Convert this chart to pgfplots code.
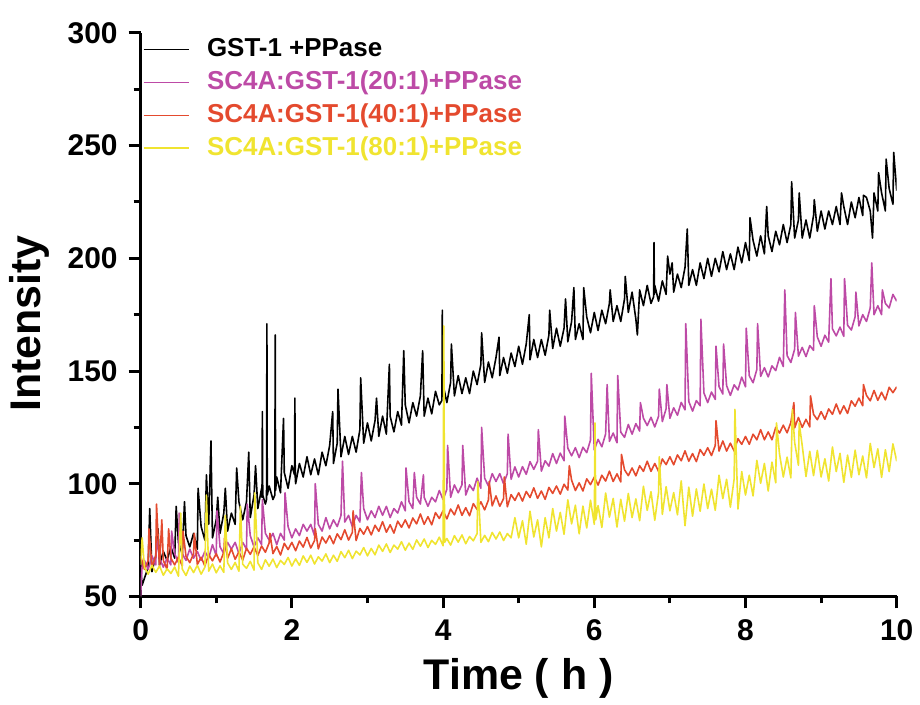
\documentclass[border=0pt]{standalone}
\usepackage{fontspec}
\setmainfont{Liberation Sans}
\usepackage{pgfplots}
\pgfplotsset{compat=1.18}
\definecolor{cmag}{HTML}{BD4AA6}
\definecolor{cred}{HTML}{E44A2E}
\definecolor{cyel}{HTML}{F0E430}

\begin{document}
\begin{tikzpicture}[font=\bfseries]
  % page frame, same proportions as the original figure
  \path (-70.5pt,-49pt) rectangle (389.5pt,299pt);
  \begin{axis}[
    at={(0,0)}, anchor=south west,
    scale only axis, width=379pt, height=282.5pt,
    xmin=0, xmax=10, ymin=50, ymax=300,
    xtick={0,2,...,10}, ytick={50,100,...,300},
    minor x tick num=1, minor y tick num=1,
    axis x line*=bottom, axis y line*=left,
    axis line style={line width=1.6pt,-},
    tick align=outside, major tick length=6pt, minor tick length=3.5pt,
    tick style={line width=1.5pt,black},
    /pgf/number format/assume math mode=true,
    tick label style={font=\fontsize{15}{15}\selectfont\bfseries},
    xticklabel style={yshift=-2pt},
    yticklabel style={xshift=-2pt},
    xlabel={Time ( h )}, ylabel={Intensity},
    label style={font=\fontsize{21.5}{22}\selectfont\bfseries},
    xlabel style={yshift=-2pt},
    ylabel style={yshift=2.5pt,xshift=-4.5pt},
    no markers,
    every axis plot/.append style={line width=0.8pt,line join=round},
    legend style={draw=none,fill=none,at={(0,1)},anchor=north west,
      xshift=1pt,yshift=-2pt,inner sep=0pt,row sep=4.5pt,column sep=9pt,
      font=\fontsize{13}{14}\selectfont\bfseries,
      nodes={inner sep=0pt,text height=9.5pt,text depth=2.5pt}},
    legend cell align=left,
    legend image code/.code={\draw[#1,line width=0.6pt] (0pt,0pt) -- (22.5pt,0pt);},
  ]
    % GST-1 + PPase
    \addplot[black] coordinates {
      (0,62) (0.02,55) (0.05,58) (0.1,63) (0.12,89) (0.15,61) (0.2,68) (0.23,80) (0.25,64) (0.3,70) (0.35,66) (0.4,72) (0.45,67) (0.47,90)
      (0.5,74) (0.55,69) (0.58,92) (0.6,77) (0.65,72) (0.7,78) (0.75,71) (0.76,98) (0.8,81) (0.85,75) (0.87,104) (0.9,82) (0.93,119) (0.95,76)
      (1,84) (1.02,94) (1.05,78) (1.1,87) (1.12,98) (1.15,79) (1.2,87) (1.25,82) (1.27,107) (1.3,92) (1.35,84) (1.4,92) (1.43,114) (1.45,85)
      (1.5,95) (1.52,108) (1.55,89) (1.6,98) (1.605,94) (1.61,132) (1.615,95) (1.65,91) (1.665,93) (1.67,171) (1.675,95) (1.7,99) (1.75,93)
      (1.775,95) (1.78,166) (1.785,97) (1.8,103) (1.85,96) (1.89,129) (1.9,105) (1.95,98)
      (2,108) (2.035,104) (2.04,138) (2.045,103) (2.05,100) (2.1,109) (2.15,103) (2.2,112) (2.25,104) (2.3,111) (2.35,104) (2.4,114) (2.45,108)
      (2.5,117) (2.54,132) (2.55,109) (2.6,118) (2.61,142) (2.65,112) (2.7,121) (2.75,113) (2.8,121) (2.85,114) (2.9,124) (2.91,147) (2.95,118)
      (3,127) (3.05,119) (3.1,128) (3.12,138) (3.15,121) (3.2,130) (3.25,122) (3.29,153) (3.3,130) (3.35,123) (3.4,132) (3.45,126) (3.48,159)
      (3.5,135) (3.55,127) (3.6,136) (3.65,130) (3.7,139) (3.73,159) (3.75,130) (3.8,138) (3.85,131) (3.9,141) (3.95,135)
      (3.985,137) (3.99,177) (3.995,139)
      (4,144) (4.05,136) (4.1,145) (4.11,162) (4.15,139) (4.2,148) (4.25,140) (4.3,147) (4.35,140) (4.4,150) (4.45,144)
      (4.5,153) (4.51,167) (4.55,145) (4.6,154) (4.65,147) (4.7,156) (4.74,165) (4.75,148) (4.8,156) (4.85,149) (4.9,158) (4.95,152)
      (5,161) (5.05,153) (5.1,162) (5.14,175) (5.15,155) (5.2,164) (5.25,156) (5.3,164) (5.35,157) (5.4,166) (5.41,177) (5.45,160)
      (5.5,169) (5.55,161) (5.6,169) (5.62,182) (5.65,163) (5.7,172) (5.73,187) (5.75,164) (5.8,171) (5.85,164) (5.86,187) (5.9,174) (5.95,167)
      (6,176) (6.05,168) (6.1,177) (6.15,171) (6.2,180) (6.21,186) (6.25,172) (6.3,179) (6.35,172) (6.4,182) (6.41,192) (6.45,176)
      (6.5,185) (6.55,173) (6.57,166) (6.6,186) (6.65,179) (6.7,188) (6.75,180) (6.785,183) (6.79,207) (6.795,184) (6.8,188) (6.85,181) (6.9,190) (6.95,184) (6.97,201)
      (7,193) (7.03,198) (7.05,185) (7.1,193) (7.15,187) (7.2,196) (7.23,213) (7.25,188) (7.3,195) (7.35,188) (7.4,198) (7.45,191)
      (7.5,200) (7.55,192) (7.6,200) (7.65,194) (7.7,203) (7.75,195) (7.8,202) (7.85,195) (7.9,205) (7.95,198)
      (8,207) (8.05,199) (8.06,218) (8.1,208) (8.15,201) (8.2,210) (8.25,202) (8.28,223) (8.3,210) (8.35,203) (8.4,212) (8.45,206)
      (8.5,215) (8.55,207) (8.6,215) (8.61,234) (8.65,209) (8.7,217) (8.71,229) (8.75,209) (8.8,217) (8.85,209) (8.9,219) (8.91,226) (8.95,212)
      (9,221) (9.05,213) (9.1,221) (9.15,215) (9.2,223) (9.25,215) (9.27,229) (9.3,223) (9.35,215) (9.4,225) (9.45,218)
      (9.5,227) (9.55,219) (9.56,228) (9.6,227) (9.65,221) (9.68,209) (9.7,229) (9.75,221) (9.76,238) (9.8,229) (9.85,221) (9.86,244) (9.9,231) (9.95,224) (9.96,247) (10,230)
    };
    \addlegendentry{GST-1 +PPase}
    % SC4A:GST-1 (20:1) + PPase
    \addplot[cmag] coordinates {
      (0,50) (0.02,64) (0.05,66) (0.1,62) (0.15,68) (0.2,64) (0.21,76) (0.25,67) (0.3,63) (0.35,67) (0.4,64) (0.41,79) (0.45,69)
      (0.5,65) (0.51,87) (0.55,69) (0.6,66) (0.65,71) (0.7,67) (0.75,70) (0.8,66) (0.85,70) (0.9,67) (0.95,73)
      (1,68) (1.01,88) (1.05,72) (1.1,69) (1.15,74) (1.2,71) (1.25,74) (1.3,69) (1.35,74) (1.4,71) (1.41,91) (1.45,77)
      (1.5,72) (1.55,76) (1.6,73) (1.61,93) (1.65,78) (1.7,75) (1.75,78) (1.8,73) (1.85,78) (1.9,75) (1.91,96) (1.95,81)
      (2,76) (2.05,80) (2.1,77) (2.15,82) (2.2,79) (2.25,82) (2.3,77) (2.31,100) (2.35,82) (2.4,79) (2.45,85)
      (2.5,80) (2.55,84) (2.6,81) (2.65,86) (2.67,110) (2.7,83) (2.75,86) (2.8,81) (2.85,86) (2.9,83) (2.92,105) (2.95,89)
      (3,84) (3.05,88) (3.1,85) (3.15,90) (3.2,86) (3.25,90) (3.3,85) (3.35,89) (3.4,87) (3.45,92)
      (3.5,88) (3.51,107) (3.55,92) (3.6,89) (3.62,105) (3.65,94) (3.7,91) (3.74,104) (3.75,94) (3.8,90) (3.85,94) (3.9,92) (3.95,97)
      (4,93) (4.05,97.5) (4.06,117) (4.1,94) (4.15,99.5) (4.2,96) (4.25,99.5) (4.26,117) (4.3,95) (4.35,99.5) (4.4,97) (4.45,102.5)
      (4.5,98) (4.51,125) (4.55,102.5) (4.6,99) (4.65,104.5) (4.7,101) (4.75,104.5) (4.8,100) (4.85,104.5) (4.86,122) (4.9,102) (4.95,107.5)
      (5,103) (5.05,107.6) (5.1,104.2) (5.15,109.8) (5.2,106.4) (5.25,110) (5.26,124) (5.3,105.6) (5.35,110.2) (5.4,107.8) (5.45,113.4)
      (5.5,109) (5.55,113.6) (5.6,110.2) (5.61,130) (5.65,115.8) (5.7,112.4) (5.75,116) (5.8,111.6) (5.85,116.2) (5.9,113.8) (5.95,119.4) (5.96,149)
      (6,115) (6.05,119.7) (6.1,116.4) (6.15,122.1) (6.17,144) (6.2,118.8) (6.25,122.5) (6.3,118.2) (6.31,148) (6.35,122.9) (6.4,120.6) (6.45,126.3)
      (6.5,122) (6.55,126.7) (6.6,123.4) (6.61,136) (6.65,129.1) (6.7,125.8) (6.75,129.5) (6.8,125.2) (6.85,129.9) (6.86,142) (6.9,127.6) (6.95,133.3) (6.96,144)
      (7,129) (7.05,133.7) (7.1,130.4) (7.15,136.1) (7.2,132.8) (7.21,171) (7.25,136.5) (7.3,132.2) (7.35,136.9) (7.4,134.6) (7.41,173) (7.45,140.3)
      (7.5,136) (7.55,140.7) (7.6,137.4) (7.61,161) (7.65,143.1) (7.7,139.8) (7.71,162) (7.75,143.5) (7.8,139.2) (7.85,143.9) (7.9,141.6) (7.95,147.3)
      (8,143) (8.01,169) (8.05,147.9) (8.1,144.8) (8.15,150.7) (8.16,171) (8.2,147.6) (8.25,151.5) (8.3,147.4) (8.35,152.3) (8.4,150.2) (8.45,156.1)
      (8.5,152) (8.52,186) (8.55,156.9) (8.6,153.8) (8.65,159.7) (8.66,176) (8.7,156.6) (8.75,160.5) (8.8,156.4) (8.85,161.3) (8.9,159.2) (8.91,179) (8.95,165.1)
      (9,161) (9.05,165.9) (9.1,162.8) (9.13,191) (9.15,168.7) (9.2,165.6) (9.25,169.5) (9.3,165.4) (9.31,191) (9.35,170.3) (9.4,168.2) (9.45,174.1) (9.46,185)
      (9.5,170) (9.55,175) (9.6,172) (9.65,178) (9.67,198) (9.7,175) (9.75,179) (9.8,175) (9.81,186) (9.85,180) (9.9,178) (9.95,184) (10,181)
    };
    \addlegendentry{\textcolor{cmag}{SC4A:GST-1(20:1)+PPase}}
    % SC4A:GST-1 (40:1) + PPase
    \addplot[cred] coordinates {
      (0,68) (0.05,62) (0.1,66) (0.11,80) (0.15,63) (0.2,68) (0.21,91) (0.25,63) (0.28,84) (0.3,66) (0.35,62) (0.37,80) (0.4,67) (0.45,64)
      (0.5,67.5) (0.55,63.6) (0.56,79) (0.6,67.8) (0.65,65) (0.7,69) (0.71,78) (0.75,64.2) (0.8,67.4) (0.85,63.5) (0.9,68.7) (0.95,65.8)
      (1,69) (1.05,65.3) (1.1,69.6) (1.11,76) (1.15,66.9) (1.2,71.2) (1.25,66.5) (1.3,69.8) (1.35,66.1) (1.4,71.4) (1.45,68.7)
      (1.5,72) (1.55,68.2) (1.6,72.4) (1.65,69.6) (1.7,73.8) (1.71,78) (1.75,69) (1.8,72.2) (1.85,68.4) (1.9,73.6) (1.95,70.8)
      (2,74) (2.05,70.3) (2.1,74.6) (2.15,71.9) (2.2,76.2) (2.25,71.5) (2.3,74.8) (2.31,80) (2.35,71.1) (2.4,76.4) (2.45,73.7)
      (2.5,77) (2.55,73.4) (2.6,77.8) (2.65,75.2) (2.7,79.6) (2.75,75) (2.8,78.4) (2.81,88) (2.85,74.8) (2.9,80.2) (2.95,77.6)
      (3,81) (3.05,77.3) (3.1,81.6) (3.15,78.9) (3.2,83.2) (3.25,78.5) (3.3,81.8) (3.35,78.1) (3.4,83.4) (3.45,80.7)
      (3.5,84) (3.55,80.4) (3.6,84.8) (3.65,82.2) (3.7,86.6) (3.75,82) (3.8,85.4) (3.85,81.8) (3.9,87.2) (3.95,84.6)
      (4,88) (4.05,84.4) (4.1,88.8) (4.15,86.2) (4.2,90.6) (4.25,86) (4.3,89.4) (4.35,85.8) (4.4,91.2) (4.45,88.6)
      (4.5,92) (4.55,88.4) (4.6,92.8) (4.61,101) (4.65,90.2) (4.7,94.6) (4.75,90) (4.8,93.4) (4.81,103) (4.85,89.8) (4.9,95.2) (4.95,92.6)
      (5,96) (5.05,92.3) (5.1,96.6) (5.15,93.9) (5.2,98.2) (5.25,93.5) (5.3,96.8) (5.35,93.1) (5.4,98.4) (5.45,95.7)
      (5.5,99) (5.55,95.4) (5.6,99.8) (5.65,97.2) (5.67,108) (5.7,101.6) (5.75,97) (5.8,100.4) (5.85,96.8) (5.9,102.2) (5.95,99.6)
      (6,103) (6.05,99.4) (6.1,103.8) (6.15,101.2) (6.2,105.6) (6.25,101) (6.3,104.4) (6.35,100.8) (6.36,113) (6.4,106.2) (6.45,103.6)
      (6.5,107) (6.55,103.5) (6.6,108) (6.65,105.5) (6.7,110) (6.75,105.5) (6.8,109) (6.85,105.5) (6.9,111) (6.95,108.5)
      (7,112) (7.05,108.4) (7.1,112.8) (7.15,110.2) (7.2,114.6) (7.25,110) (7.3,113.4) (7.35,109.8) (7.4,115.2) (7.45,112.6)
      (7.5,116) (7.55,112.5) (7.6,117) (7.61,128) (7.65,114.5) (7.7,119) (7.75,114.5) (7.8,118) (7.85,114.5) (7.9,120) (7.95,117.5)
      (8,121) (8.05,117.5) (8.1,122) (8.15,119.5) (8.2,124) (8.25,119.5) (8.3,123) (8.35,119.5) (8.4,125) (8.45,122.5)
      (8.5,126) (8.55,122.6) (8.6,127.2) (8.64,136) (8.65,124.8) (8.7,129.4) (8.75,125) (8.8,128.6) (8.85,125.2) (8.86,139) (8.9,130.8) (8.95,128.4)
      (9,132) (9.05,128.6) (9.1,133.2) (9.15,130.8) (9.2,135.4) (9.25,131) (9.3,134.6) (9.35,131.2) (9.4,136.8) (9.45,134.4)
      (9.5,138) (9.55,134.6) (9.56,144) (9.6,139.2) (9.65,136.8) (9.7,141.4) (9.75,137) (9.8,140.6) (9.85,137.2) (9.9,142.8) (9.95,140.4) (10,143)
    };
    \addlegendentry{\textcolor{cred}{SC4A:GST-1(40:1)+PPase}}
    % SC4A:GST-1 (80:1) + PPase
    \addplot[cyel] coordinates {
      (0,64) (0.02,76) (0.05,63) (0.1,59.9) (0.15,63.8) (0.2,60.7) (0.25,63.5) (0.3,59.4) (0.35,62.3) (0.4,60.2) (0.45,63.1)
      (0.5,59) (0.53,87) (0.55,62.2) (0.6,59.3) (0.65,63.5) (0.7,60.6) (0.75,63.8) (0.8,59.9) (0.85,63) (0.87,95) (0.9,61.2) (0.95,64.4)
      (1,60.5) (1.05,63.6) (1.1,60.7) (1.12,86) (1.15,64.9) (1.2,62) (1.25,65.1) (1.3,61.2) (1.32,90) (1.35,64.3) (1.4,62.5) (1.45,65.6)
      (1.5,61.7) (1.51,96) (1.55,64.9) (1.6,62) (1.65,66.3) (1.7,63.4) (1.75,66.6) (1.8,62.8) (1.85,66) (1.9,64.2) (1.95,67.3)
      (2,63.5) (2.05,66.7) (2.1,63.8) (2.15,68) (2.2,65.1) (2.25,68.3) (2.3,64.4) (2.35,67.6) (2.4,65.7) (2.45,68.9)
      (2.5,65) (2.55,68.3) (2.6,65.6) (2.65,69.9) (2.7,67.2) (2.75,70.5) (2.8,66.8) (2.85,70.1) (2.9,68.4) (2.95,71.7)
      (3,68) (3.05,71.3) (3.1,68.5) (3.15,72.8) (3.2,70) (3.25,73.3) (3.3,69.5) (3.35,72.8) (3.4,71) (3.45,74.3)
      (3.5,70.5) (3.55,73.7) (3.6,70.9) (3.65,75.1) (3.7,72.3) (3.75,75.5) (3.8,71.7) (3.85,74.9) (3.9,73.1) (3.95,76.3)
      (4,72.5) (4.01,170) (4.02,74) (4.05,75.7) (4.1,72.8) (4.15,77) (4.2,74.1) (4.25,77.3) (4.3,73.4) (4.35,76.6) (4.4,74.7) (4.45,77.9) (4.46,101)
      (4.5,74) (4.55,77.1) (4.6,74.3) (4.65,78.4) (4.7,75.5) (4.75,78.6) (4.8,74.8) (4.85,77.9) (4.9,76) (4.95,85)
      (5,76) (5.05,83.6) (5.1,73.2) (5.15,87.8) (5.2,76.4) (5.25,84) (5.3,72) (5.35,85) (5.4,76) (5.45,89)
      (5.5,79) (5.55,87.3) (5.6,77.6) (5.65,92.9) (5.7,82.2) (5.75,90.5) (5.8,77.8) (5.85,90.1) (5.9,80.4) (5.95,92.7)
      (6,82) (6.01,127) (6.02,84) (6.05,90.3) (6.1,80.6) (6.15,95.9) (6.2,85.2) (6.25,93.5) (6.3,80.8) (6.35,93.1) (6.4,83.4) (6.45,95.7)
      (6.5,85) (6.55,93.3) (6.6,83.6) (6.65,98.9) (6.7,88.2) (6.75,96.5) (6.8,83.8) (6.85,96.1) (6.86,112) (6.9,86.4) (6.95,98.7)
      (7,88) (7.05,96.1) (7.1,86.2) (7.15,101.3) (7.2,81.4) (7.25,98.5) (7.3,85.6) (7.35,97.7) (7.4,87.8) (7.45,99.9)
      (7.5,89) (7.55,97.6) (7.6,88.2) (7.65,103.8) (7.7,93.4) (7.75,102) (7.8,89.6) (7.85,102.2) (7.86,133) (7.9,88.8) (7.95,105.4)
      (8,95) (8.05,103.8) (8.1,94.6) (8.15,110.4) (8.2,100.2) (8.25,109) (8.3,96.8) (8.35,109.6) (8.4,100.4) (8.41,127) (8.45,113.2)
      (8.5,103) (8.55,111.8) (8.6,102.6) (8.62,133) (8.65,118.4) (8.7,108.2) (8.71,127) (8.75,117) (8.8,103.2) (8.85,114.4) (8.9,103.6) (8.95,114.8)
      (9,103) (9.05,111.1) (9.1,101.2) (9.15,116.3) (9.2,105.4) (9.25,113.5) (9.3,100.6) (9.35,112.7) (9.4,102.8) (9.45,114.9)
      (9.5,104) (9.55,112.3) (9.6,102.6) (9.65,117.9) (9.7,107.2) (9.75,115.5) (9.8,102.8) (9.85,115.1) (9.9,105.4) (9.95,117.7) (10,110)
    };
    \addlegendentry{\textcolor{cyel}{SC4A:GST-1(80:1)+PPase}}
  \end{axis}
\end{tikzpicture}
\end{document}
